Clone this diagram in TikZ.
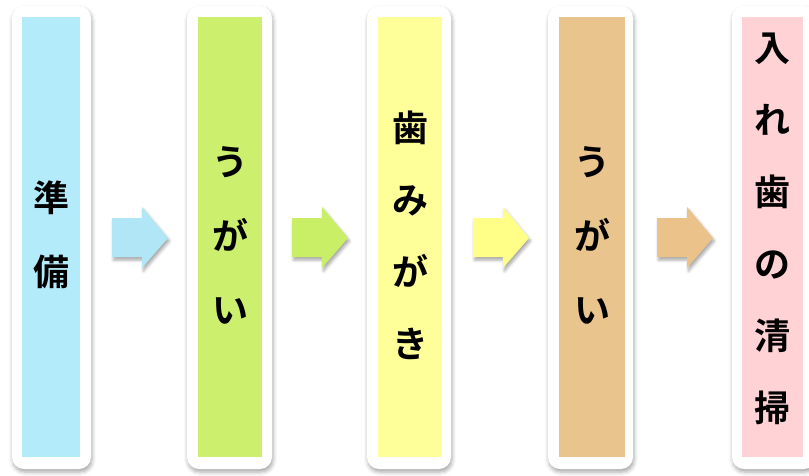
\documentclass[tikz,border=0pt]{standalone}
\usepackage{fontspec}
\newfontfamily\jp{Noto Sans CJK JP Bold}
\usetikzlibrary{shadows.blur}
\definecolor{cA}{HTML}{B3EBFA}
\definecolor{cB}{HTML}{CCF06E}
\definecolor{cC}{HTML}{FFFF99}
\definecolor{cD}{HTML}{EAC48D}
\definecolor{cE}{HTML}{FFD3D6}
\definecolor{aA}{HTML}{B0E6F6}
\definecolor{aB}{HTML}{C8EF66}
\definecolor{aC}{HTML}{FFFF88}
\definecolor{aD}{HTML}{EBC28A}
\tikzset{
  frame/.style={fill=white, rounded corners=12pt, blur shadow={shadow xshift=1pt, shadow yshift=-3pt, shadow blur radius=4pt, shadow opacity=35}},
  label/.style={font=\jp\fontsize{36}{74}\selectfont, align=center, inner sep=0pt, text=black},
  blk/.style={blur shadow={shadow xshift=1.5pt, shadow yshift=-3pt, shadow blur radius=3pt, shadow opacity=35}}
}
\newcommand{\barbox}[6]{%
  \path[frame] (#2,6) rectangle (#3,469);
  \fill[#6] (#4,17) rectangle (#5,457);
  \coordinate (#1) at ({(#4+#5)/2},235);
}
\newcommand{\blockarrow}[3]{%
  \path[fill=#2, blk] (#1,218) -- ++(30,0) -- ++(0,-11) -- ++(26,31) -- ++(-26,30) -- ++(0,-11) -- ++(-30,0) -- cycle;
  \coordinate (#3) at ({#1+28},238);
}
\begin{document}
\begin{tikzpicture}[x=1pt, y=-1pt]
\useasboundingbox (0,0) rectangle (809,475);
\barbox{b1}{12}{91}{22}{80}{cA}
\barbox{b2}{187}{272}{198}{262}{cB}
\barbox{b3}{367}{451}{378}{442}{cC}
\barbox{b4}{548}{633}{559}{625}{cD}
\barbox{b5}{732}{816}{742}{803}{cE}
\node[label] (t1) at (b1) {準\\備};
\node[label] (t2) at (b2) {う\\が\\い};
\node[label, font=\jp\fontsize{36}{72}\selectfont] (t3) at (b3) {歯\\み\\が\\き};
\node[label] (t4) at (b4) {う\\が\\い};
\node[label, font=\jp\fontsize{36}{72}\selectfont] (t5) at ([yshift=6pt]b5) {入\\れ\\歯\\の\\清\\掃};
\blockarrow{112}{aA}{a1}
\blockarrow{292}{aB}{a2}
\blockarrow{473}{aC}{a3}
\blockarrow{657}{aD}{a4}
\end{tikzpicture}
\end{document}
